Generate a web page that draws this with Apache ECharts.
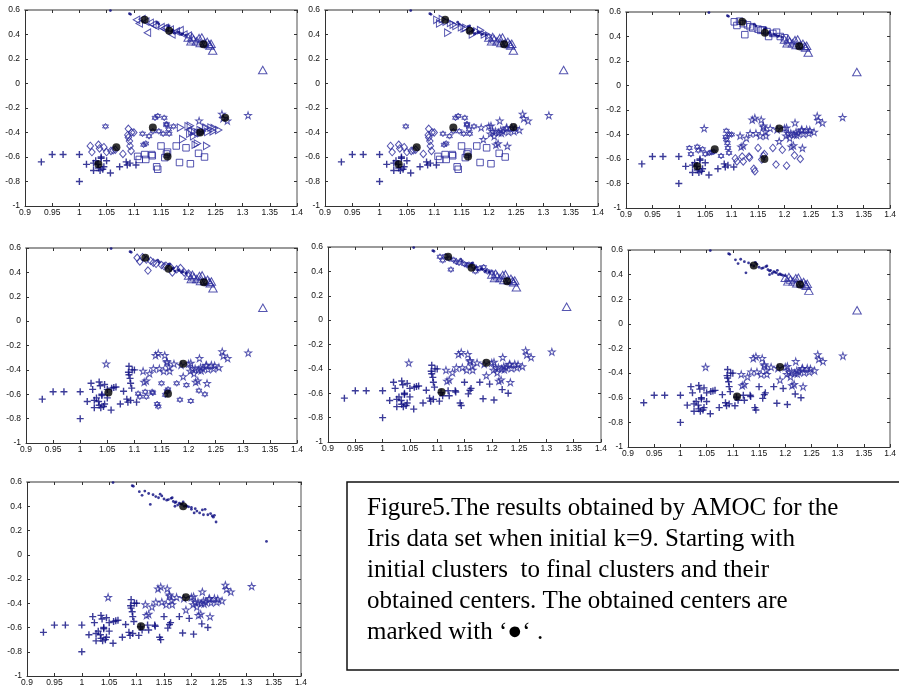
<!DOCTYPE html>
<html>
<head>
<meta charset="utf-8">
<script src="https://cdn.jsdelivr.net/npm/echarts@6/dist/echarts.min.js"></script>
<style>
html,body{margin:0;padding:0;background:#fff;}
#chart{width:899px;height:689px;}
</style>
</head>
<body>
<div id="chart"></div>
<script>
// ---------------- DATA ----------------
const xTickLabels = ['0.9','0.95','1','1.05','1.1','1.15','1.2','1.25','1.3','1.35','1.4'];
const yTickLabels = ['-1','-0.8','-0.6','-0.4','-0.2','0','0.2','0.4','0.6'];

// upper group (Iris setosa)
const topDots = [[1.057,0.595],[1.077,0.605],[1.092,0.57],[1.094,0.565],[1.143,0.50],[1.146,0.485],[1.163,0.465],[1.165,0.47],[1.175,0.41],[1.18,0.42],[1.187,0.40],[1.19,0.405],[1.195,0.395],[1.17,0.43],[1.172,0.435],[1.183,0.415]];
const topLeft = [[1.105,0.52],[1.11,0.49],[1.115,0.525],[1.122,0.505],[1.125,0.415],[1.13,0.495],[1.135,0.48],[1.14,0.47],[1.15,0.46],[1.155,0.45],[1.158,0.455],[1.167,0.44],[1.17,0.40],[1.178,0.425],[1.185,0.435],[1.192,0.40],[1.2,0.39]];
const topRight = [[1.2,0.375],[1.207,0.38],[1.21,0.36],[1.215,0.345],[1.22,0.37],[1.222,0.33],[1.225,0.375],[1.23,0.33],[1.235,0.34],[1.238,0.32],[1.24,0.31],[1.245,0.27],[1.205,0.345],[1.242,0.325],[1.337,0.11]];

// lower group, initial sub-clusters A..F
const bottomA = [[0.93,-0.64],[0.95,-0.58],[0.97,-0.58],[1.0,-0.58],[1.0,-0.80],[1.013,-0.66],[1.026,-0.65],[1.026,-0.71],[1.034,-0.66],[1.035,-0.69],[1.038,-0.71],[1.04,-0.61],[1.043,-0.70],[1.045,-0.68],[1.05,-0.63],[1.057,-0.73],[1.074,-0.68],[1.086,-0.64],[1.088,-0.665],[1.093,-0.65],[1.104,-0.665],[1.03,-0.63],[1.04,-0.60]];
const bottomB = [[1.02,-0.51],[1.023,-0.56],[1.035,-0.50],[1.037,-0.53],[1.045,-0.52],[1.05,-0.56],[1.058,-0.55],[1.062,-0.545],[1.066,-0.54],[1.08,-0.575],[1.09,-0.44],[1.089,-0.42],[1.092,-0.47],[1.093,-0.51],[1.095,-0.55],[1.09,-0.37],[1.1,-0.40],[1.096,-0.40]];
const bottomC = [[1.048,-0.35],[1.116,-0.41],[1.128,-0.43],[1.122,-0.49],[1.118,-0.50],[1.139,-0.28],[1.144,-0.265],[1.146,-0.39],[1.156,-0.28],[1.154,-0.41],[1.16,-0.34],[1.165,-0.41],[1.164,-0.375],[1.173,-0.35],[1.16,-0.33],[1.135,-0.39]];
const bottomD = [[1.107,-0.595],[1.11,-0.62],[1.122,-0.62],[1.133,-0.58],[1.134,-0.59],[1.142,-0.68],[1.144,-0.70],[1.15,-0.51],[1.157,-0.605],[1.16,-0.575],[1.162,-0.56],[1.178,-0.51],[1.184,-0.645],[1.196,-0.525],[1.204,-0.655],[1.219,-0.57],[1.23,-0.60],[1.12,-0.58]];
const bottomE = [[1.186,-0.36],[1.19,-0.455],[1.204,-0.345],[1.203,-0.41],[1.207,-0.39],[1.21,-0.43],[1.213,-0.50],[1.217,-0.49],[1.218,-0.40],[1.223,-0.405],[1.226,-0.39],[1.232,-0.365],[1.234,-0.51],[1.236,-0.395],[1.242,-0.36],[1.246,-0.39],[1.248,-0.365],[1.256,-0.38],[1.212,-0.39],[1.222,-0.38],[1.2,-0.35],[1.233,-0.36]];
const bottomF = [[1.22,-0.305],[1.262,-0.25],[1.272,-0.305],[1.31,-0.26],[1.264,-0.285]];

// obtained centers for each step
const centers1 = [[1.12,0.52],[1.165,0.43],[1.228,0.32],[1.035,-0.66],[1.068,-0.52],[1.135,-0.36],[1.162,-0.595],[1.222,-0.40],[1.268,-0.28]];
const centers2 = [[1.12,0.52],[1.165,0.43],[1.228,0.32],[1.035,-0.66],[1.068,-0.52],[1.135,-0.36],[1.162,-0.595],[1.245,-0.355]];
const centers3 = [[1.12,0.52],[1.163,0.43],[1.228,0.32],[1.035,-0.66],[1.068,-0.52],[1.19,-0.35],[1.162,-0.60]];
const centers4 = [[1.12,0.52],[1.163,0.43],[1.228,0.32],[1.052,-0.585],[1.162,-0.595],[1.19,-0.35]];
const centers5 = [[1.12,0.52],[1.163,0.43],[1.228,0.32],[1.108,-0.59],[1.19,-0.35]];
const centers6 = [[1.14,0.475],[1.228,0.32],[1.108,-0.59],[1.19,-0.35]];
const centers7 = [[1.185,0.40],[1.19,-0.35],[1.108,-0.59]];

const caption = [
  'Figure5.The results obtained by AMOC for the',
  'Iris data set when initial k=9. Starting with',
  'initial clusters  to final clusters and their',
  'obtained centers. The obtained centers are',
  'marked with \u2018\u25CF\u2018 .'
];

// ---------------- STYLE / LAYOUT ----------------
const groups = {TD: topDots, TL: topLeft, TR: topRight, A: bottomA, B: bottomB, C: bottomC, D: bottomD, E: bottomE, F: bottomF};
const panelMarkers = [
  {TD:'dot', TL:'ltri', TR:'tri', A:'plus', B:'diamond', C:'hexagram', D:'square', E:'rtri', F:'pentagram'},
  {TD:'dot', TL:'rtri', TR:'tri', A:'plus', B:'diamond', C:'hexagram', D:'square', E:'pentagram', F:'pentagram'},
  {TD:'dot', TL:'square', TR:'tri', A:'plus', B:'hexagram', C:'pentagram', D:'diamond', E:'pentagram', F:'pentagram'},
  {TD:'dot', TL:'diamond', TR:'tri', A:'plus', B:'plus', C:'pentagram', D:'hexagram', E:'pentagram', F:'pentagram'},
  {TD:'dot', TL:'hexagram', TR:'tri', A:'plus', B:'plus', C:'pentagram', D:'plus', E:'pentagram', F:'pentagram'},
  {TD:'dot', TL:'dot', TR:'tri', A:'plus', B:'plus', C:'pentagram', D:'plus', E:'pentagram', F:'pentagram'},
  {TD:'dot', TL:'dot', TR:'dot', A:'plus', B:'plus', C:'pentagram', D:'plus', E:'pentagram', F:'pentagram'}
];
const panelCenters = [centers1, centers2, centers3, centers4, centers5, centers6, centers7];
const gridBoxes = [
  {left:25, top:10, width:272, height:196},
  {left:325, top:10, width:273, height:196},
  {left:626, top:12, width:274, height:196},
  {left:26, top:248, width:271, height:195},
  {left:328, top:247, width:273, height:195},
  {left:628, top:250, width:273, height:197},
  {left:27, top:482, width:274, height:194}
];

const NAVY = '#0a0a80';
const LINE = '#2a2a9c';
const HOLLOW = 'rgba(0,0,0,0)';
const markerStyles = {
  dot: {symbol:'circle', size:2.8, itemStyle:{color:NAVY}},
  plus: {symbol:'path://M4,0 H6 V4 H10 V6 H6 V10 H4 V6 H0 V4 H4 Z', size:7, itemStyle:{color:NAVY}},
  tri: {symbol:'path://M5,0 L10,9 L0,9 Z', size:[8.5,7.5], itemStyle:{color:HOLLOW, borderColor:LINE, borderWidth:1}},
  ltri: {symbol:'path://M0,5 L9,0 L9,10 Z', size:[6.5,7.5], itemStyle:{color:HOLLOW, borderColor:LINE, borderWidth:1}},
  rtri: {symbol:'path://M9,5 L0,0 L0,10 Z', size:[6.5,7.5], itemStyle:{color:HOLLOW, borderColor:LINE, borderWidth:1}},
  diamond: {symbol:'path://M5,0 L10,6 L5,12 L0,6 Z', size:[6.5,7.5], itemStyle:{color:HOLLOW, borderColor:LINE, borderWidth:1}},
  square: {symbol:'rect', size:6.5, itemStyle:{color:HOLLOW, borderColor:LINE, borderWidth:1}},
  hexagram: {symbol:'path://M5,0 L9.33,7.5 L0.67,7.5 Z M5,10 L0.67,2.5 L9.33,2.5 Z', size:6, itemStyle:{color:HOLLOW, borderColor:LINE, borderWidth:0.9}},
  pentagram: {symbol:'path://M5,0 L6.18,3.62 L10,3.62 L6.91,5.86 L8.09,9.51 L5,7.27 L1.91,9.51 L3.09,5.86 L0,3.62 L3.82,3.62 Z', size:6.8, itemStyle:{color:HOLLOW, borderColor:LINE, borderWidth:1}}
};

// ---------------- BUILD ----------------
const grid = [], xAxis = [], yAxis = [], series = [];
const labelFont = {fontFamily:'Liberation Sans, Arial, sans-serif', fontSize:8.5, color:'#111'};

gridBoxes.forEach((g, i) => {
  grid.push(Object.assign({show:false, containLabel:false}, g));
  const xi = xAxis.length, yi = yAxis.length;
  xAxis.push({gridIndex:i, type:'value', min:0.9, max:1.4, interval:0.05, position:'bottom',
    axisLine:{onZero:false, lineStyle:{color:'#333', width:1}},
    axisTick:{inside:true, length:3, lineStyle:{color:'#333'}},
    axisLabel:Object.assign({margin:2, formatter:(v, idx) => xTickLabels[idx]}, labelFont),
    splitLine:{show:false}});
  xAxis.push({gridIndex:i, type:'value', min:0.9, max:1.4, interval:0.05, position:'top',
    axisLine:{onZero:false, lineStyle:{color:'#9a9a9a', width:2}},
    axisTick:{inside:true, length:3, lineStyle:{color:'#333'}},
    axisLabel:{show:false}, splitLine:{show:false}});
  yAxis.push({gridIndex:i, type:'value', min:-1, max:0.6, interval:0.2, position:'left',
    axisLine:{onZero:false, lineStyle:{color:'#333', width:1}},
    axisTick:{inside:true, length:3, lineStyle:{color:'#333'}},
    axisLabel:Object.assign({margin:5, formatter:(v, idx) => yTickLabels[idx]}, labelFont),
    splitLine:{show:false}});
  yAxis.push({gridIndex:i, type:'value', min:-1, max:0.6, interval:0.2, position:'right',
    axisLine:{onZero:false, lineStyle:{color:'#8a8a8a', width:1.5}},
    axisTick:{inside:true, length:3, lineStyle:{color:'#333'}},
    axisLabel:{show:false}, splitLine:{show:false}});

  const markers = panelMarkers[i];
  Object.keys(groups).forEach(key => {
    const m = markerStyles[markers[key]];
    series.push({type:'scatter', xAxisIndex:xi, yAxisIndex:yi, data:groups[key],
      symbol:m.symbol, symbolSize:m.size, itemStyle:m.itemStyle, silent:true, animation:false,
      z: markers[key] === 'dot' || markers[key] === 'plus' ? 3 : 2});
  });
  series.push({type:'scatter', xAxisIndex:xi, yAxisIndex:yi, data:panelCenters[i],
    symbol:'circle', symbolSize:8, itemStyle:{color:'#000'}, silent:true, animation:false, z:5});
});

const chart = echarts.init(document.getElementById('chart'), null, {renderer:'canvas'});
chart.setOption({
  backgroundColor:'#fff',
  animation:false,
  grid, xAxis, yAxis, series,
  graphic:[
    {type:'rect', shape:{x:347, y:482, width:570, height:188},
      style:{fill:'#fff', stroke:'#111', lineWidth:1.5}, z:1},
    {type:'text', left:367, top:493, z:2,
      style:{text:caption.join('\n'), font:'25px "Liberation Serif", "Times New Roman", serif',
        lineHeight:31, fill:'#000'}}
  ]
});
</script>
</body>
</html>
